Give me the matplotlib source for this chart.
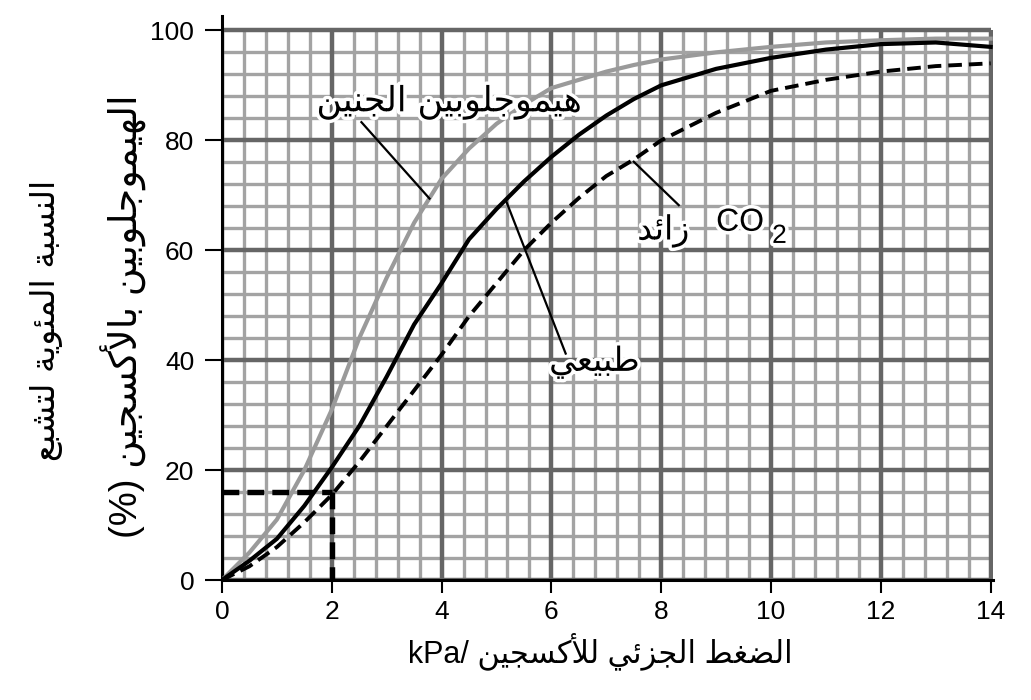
import numpy as np
import matplotlib
matplotlib.use("Agg")
import matplotlib.pyplot as plt
import matplotlib.patheffects as pe

# ---- data ----
po2 = [0, 0.5, 1, 1.5, 2, 2.5, 3, 3.5, 4, 4.5, 5, 5.5, 6, 6.5, 7, 7.5, 8, 9, 10, 11, 12, 13, 14]
fetal = [0, 5, 11, 20, 31, 44, 55, 65, 73, 78.5, 83, 86.5, 89.5, 91, 92.5, 93.7, 94.7, 96, 97, 97.8, 98.2, 98.5, 98.5]
normal = [0, 3.5, 7.5, 13.5, 20.5, 28, 37, 46.5, 54, 62, 67.5, 72.5, 77, 81, 84.5, 87.5, 90, 93, 95, 96.5, 97.5, 97.8, 97]
high_co2 = [0, 2.5, 6, 10.5, 15.5, 21.5, 28, 34.5, 41, 48, 54, 60, 65, 69.5, 73.5, 76.5, 80, 85, 89, 91, 92.5, 93.5, 94]

xticks = [0, 2, 4, 6, 8, 10, 12, 14]
yticks = [0, 20, 40, 60, 80, 100]
marker_x = 2
marker_y = 16

ylabel1 = "النسبة المئوية لتشبع"
ylabel2 = "الهيموجلوبين بالأكسجين"
xlabel = "الضغط الجزئي للأكسجين"
lbl_fetal = "هيموجلوبين الجنين"
lbl_normal = "طبيعي"
lbl_co2 = "زائد"

# ---- tiny arabic shaper (matplotlib has no shaping) ----
DUAL = {'ئ': 0xFE89, 'ب': 0xFE8F, 'ت': 0xFE95, 'ث': 0xFE99, 'ج': 0xFE9D, 'ح': 0xFEA1,
        'خ': 0xFEA5, 'س': 0xFEB1, 'ش': 0xFEB5, 'ص': 0xFEB9, 'ض': 0xFEBD, 'ط': 0xFEC1,
        'ظ': 0xFEC5, 'ع': 0xFEC9, 'غ': 0xFECD, 'ف': 0xFED1, 'ق': 0xFED5, 'ك': 0xFED9,
        'ل': 0xFEDD, 'م': 0xFEE1, 'ن': 0xFEE5, 'ه': 0xFEE9, 'ي': 0xFEF1}
RIGHT = {'آ': 0xFE81, 'أ': 0xFE83, 'ؤ': 0xFE85, 'إ': 0xFE87, 'ا': 0xFE8D, 'ة': 0xFE93,
         'د': 0xFEA9, 'ذ': 0xFEAB, 'ر': 0xFEAD, 'ز': 0xFEAF, 'و': 0xFEED, 'ى': 0xFEEF}
LAMALEF = {'آ': 0xFEF5, 'أ': 0xFEF7, 'إ': 0xFEF9, 'ا': 0xFEFB}


def rtl(s):
    toks = []
    i = 0
    while i < len(s):
        if s[i] == 'ل' and i + 1 < len(s) and s[i + 1] in LAMALEF:
            toks.append(('LA', s[i + 1]))
            i += 2
        else:
            toks.append(s[i])
            i += 1

    def joins_prev(t):
        return isinstance(t, tuple) or t in DUAL or t in RIGHT

    out = []
    for k, t in enumerate(toks):
        prev = toks[k - 1] if k > 0 else None
        nxt = toks[k + 1] if k + 1 < len(toks) else None
        p = (not isinstance(prev, tuple)) and prev in DUAL and joins_prev(t)
        if isinstance(t, tuple):
            out.append(chr(LAMALEF[t[1]] + (1 if p else 0)))
        elif t in DUAL:
            q = nxt is not None and joins_prev(nxt)
            base = DUAL[t]
            if p and q:
                out.append(chr(base + 3))
            elif p:
                out.append(chr(base + 1))
            elif q:
                out.append(chr(base + 2))
            else:
                out.append(chr(base))
        elif t in RIGHT:
            out.append(chr(RIGHT[t] + (1 if p else 0)))
        else:
            out.append(t)
    return "".join(reversed(out))


LAT = ['Liberation Sans', 'DejaVu Sans']
AR = ['DejaVu Sans']
halo = [pe.withStroke(linewidth=5, foreground='white')]

fig = plt.figure(figsize=(10.31, 7.0), dpi=100)
ax = fig.add_axes([0.2153, 0.1714, 0.7482, 0.8064])
ax.set_xlim(0, 14.05)
ax.set_ylim(0, 102.7)

# grid paper
for gx in np.arange(0, 14.01, 0.4):
    major = abs(gx / 2 - round(gx / 2)) < 1e-6
    if not major:
        ax.plot([gx, gx], [0, 100], color='#a3a3a3', lw=2.4, zorder=1, solid_capstyle='butt')
for gy in np.arange(0, 100.1, 4):
    if gy % 20 != 0:
        ax.plot([0, 14], [gy, gy], color='#a3a3a3', lw=2.4, zorder=1, solid_capstyle='butt')
for gx in xticks:
    ax.plot([gx, gx], [0, 100], color='#666666', lw=3.2, zorder=2, solid_capstyle='butt')
for gy in yticks:
    ax.plot([0, 14], [gy, gy], color='#666666', lw=3.2, zorder=2, solid_capstyle='butt')

# curves
ax.plot(po2, fetal, color='#9a9a9a', lw=3.0, zorder=4)
ax.plot(po2, normal, color='black', lw=3.0, zorder=5)
ax.plot(po2, high_co2, color='black', lw=2.8, ls=(0, (3.5, 1.8)), zorder=5)

# 16% marker
ax.plot([0, marker_x], [marker_y, marker_y], color='black', lw=3.9, ls=(0, (3.1, 1.5)), zorder=6)
ax.plot([marker_x, marker_x], [marker_y, 0], color='black', lw=3.9, ls=(0, (3.1, 1.5)), zorder=6)

# labels on the curves
ax.plot([2.54, 3.78], [83.3, 69.4], color='black', lw=1.6, zorder=7)
ax.plot([6.26, 5.17], [41.2, 69.1], color='black', lw=1.6, zorder=7)
ax.plot([8.32, 7.5], [68.2, 76.1], color='black', lw=1.6, zorder=7)

ax.text(4.13, 87.0, rtl(lbl_fetal), family=AR, fontsize=25, ha='center', va='center',
        path_effects=halo, zorder=8)
ax.text(6.79, 39.6, rtl(lbl_normal), family=AR, fontsize=24, ha='center', va='center',
        path_effects=halo, zorder=8)
ax.text(8.04, 63.5, rtl(lbl_co2), family=AR, fontsize=24, ha='center', va='center',
        path_effects=halo, zorder=8)
ax.text(9.0, 65.0, "CO", family=LAT, fontsize=23, ha='left', va='center',
        path_effects=halo, zorder=8)
ax.text(10.02, 62.6, "2", family=LAT, fontsize=19, ha='left', va='center',
        path_effects=halo, zorder=8)

# axes
for s in ['top', 'right']:
    ax.spines[s].set_visible(False)
ax.spines['left'].set_linewidth(2.2)
ax.spines['bottom'].set_linewidth(2.2)
ax.spines['bottom'].set_bounds(0, 14.05)
ax.set_xticks(xticks)
ax.set_yticks(yticks)
ax.tick_params(labelsize=19, width=1.5, color='black')
ax.tick_params(axis='x', length=9.5, pad=5)
ax.tick_params(axis='y', length=12, pad=8)
for lab in ax.get_xticklabels() + ax.get_yticklabels():
    lab.set_family(LAT)

fig.text(0.582, 0.07, "kPa/ " + rtl(xlabel), family=LAT, fontsize=22, ha='center', va='center')
fig.text(0.045, 0.543, rtl(ylabel1), family=AR, fontsize=24, rotation=90, ha='center', va='center')
fig.text(0.12, 0.548, "(%) " + rtl(ylabel2), family=LAT, fontsize=27.5, rotation=90, ha='center', va='center')

fig.savefig('out.png', dpi=100)
